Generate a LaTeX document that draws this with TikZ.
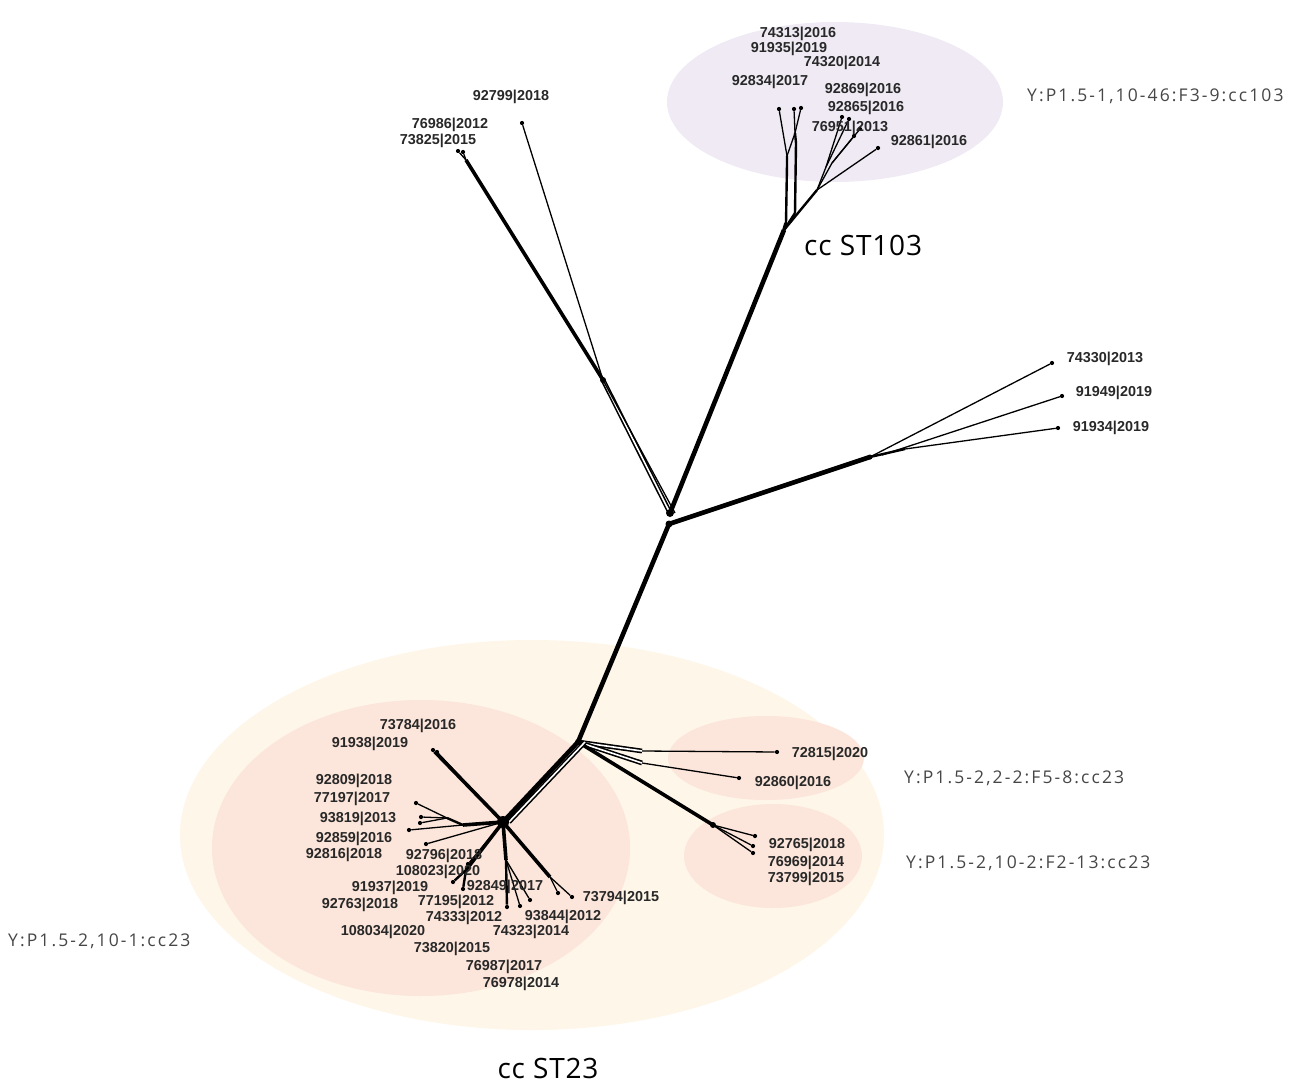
\documentclass[tikz,border=0pt]{standalone}
\usepackage{fontspec}
\setmainfont{Liberation Sans}
\newfontfamily\opensans[LetterSpace=12]{Open Sans}
\newfontfamily\opensanscc[LetterSpace=3]{Open Sans}
\definecolor{lav}{RGB}{239,234,244}
\definecolor{cream}{RGB}{254,246,232}
\definecolor{salmon}{RGB}{252,229,218}
\definecolor{tipgray}{RGB}{40,40,40}
\definecolor{labgray}{RGB}{70,70,70}
\begin{document}
\begin{tikzpicture}[x=1pt,y=-1pt,
  tipdot/.style={circle,fill=black,inner sep=0pt,minimum size=4.2pt},
  thin/.style={line width=1.3pt},
  mid/.style={line width=2.4pt},
  thk/.style={line width=4.6pt},
  thkb/.style={line width=3.6pt},
  dbl/.style={double=white,double distance=1.6pt,line width=1.6pt},
  tiplab/.style={font=\bfseries\fontsize{14.4}{15}\selectfont,text=tipgray,inner sep=0pt},
  grouplab/.style={font=\opensans\fontsize{17.5}{20}\selectfont,text=labgray,inner sep=0pt},
  cclab/.style={font=\opensanscc\fontsize{28}{30}\selectfont,text=black,inner sep=0pt}]
\useasboundingbox (0,0) rectangle (1298,1086);
% background ellipses
\fill[lav] (835,102) ellipse [x radius=168, y radius=80];
\fill[cream] (532,835) ellipse [x radius=352, y radius=195];
\fill[salmon] (421,848) ellipse [x radius=209, y radius=148];
\fill[salmon] (766,758) ellipse [x radius=98, y radius=42];
\fill[salmon] (773,856) ellipse [x radius=89, y radius=52];

% internal coordinates
\coordinate (c0) at (670,513);
\coordinate (c1) at (669,524);
\coordinate (u1) at (784,230);
\coordinate (u2) at (795,213);
\coordinate (u3) at (786,223);
\coordinate (a1) at (787,164);
\coordinate (a0) at (787,156);
\coordinate (b1) at (795,133);
\coordinate (b2) at (796,143);
\coordinate (r0) at (817,190);
\coordinate (r1) at (826,167);
\coordinate (r2) at (832,163);
\coordinate (l0) at (603,380);
\coordinate (l1) at (466,160);
\coordinate (q0) at (870,457);
\coordinate (q1) at (882,455);
\coordinate (q2) at (905,449);
\coordinate (d0) at (578,742);
\coordinate (e1) at (642,751);
\coordinate (e2) at (642,763);
\coordinate (f0) at (713,825);
\coordinate (h0) at (503,822);
\coordinate (h1) at (463,825);
\coordinate (h2) at (447,818);
\coordinate (h3) at (466,870);
\coordinate (h4) at (550,877);
\coordinate (h5) at (506,860);

% tips
\node[tipdot] (t92834) at (779,109) {};
\node[tipdot] (t74313) at (794,109) {};
\node[tipdot] (t91935) at (801,108) {};
\node[tipdot] (t92869) at (842,117) {};
\node[tipdot] (t92865) at (849,119) {};
\node[tipdot] (t76951) at (860,129) {};
\node[tipdot] (t74320) at (854,136) {};
\node[tipdot] (t92861) at (878,148) {};
\node[tipdot] (t76986) at (458,151) {};
\node[tipdot] (t73825) at (463,152) {};
\node[tipdot] (t92799) at (522,123) {};
\node[tipdot] (t74330) at (1052,363) {};
\node[tipdot] (t91949) at (1062,396) {};
\node[tipdot] (t91934) at (1058,428) {};
\node[tipdot] (t72815) at (777,752) {};
\node[tipdot] (t92860) at (739,778) {};
\node[tipdot] (t92765) at (755,836) {};
\node[tipdot] (t76969) at (753,846) {};
\node[tipdot] (t73799) at (753,853) {};
\node[tipdot] (t91938) at (433,750) {};
\node[tipdot] (t73784) at (437,752) {};
\node[tipdot] (t92809) at (416,803) {};
\node[tipdot] (t77197) at (421,817) {};
\node[tipdot] (t93819) at (420,823) {};
\node[tipdot] (t92859) at (409,830) {};
\node[tipdot] (t92816) at (426,844) {};
\node[tipdot] (t108023) at (453,882) {};
\node[tipdot] (t91937) at (463,889) {};
\node[tipdot] (t92849) at (468,864) {};
\node[tipdot] (t74333) at (507,907) {};
\node[tipdot] (t74323) at (520,906) {};
\node[tipdot] (t93844) at (530,900) {};
\node[tipdot] (t76987) at (558,893) {};
\node[tipdot] (t73794) at (572,897) {};

% central trunks
\draw[thk] (c0) -- (u1);
\draw[thk] (c1) -- (q0);
\draw[thk] (c1) -- (d0);
\draw[dbl] (c0) -- (l0);
\draw[thin] ([xshift=5pt]c0) -- (l0);
\fill (c0) circle (4pt);
\fill (c1) circle (3.5pt);

% cc103 cluster
\draw[thkb] (u1) -- (u3);
\draw[mid] (u1) -- (u2);
\draw[mid] (u1) -- (r0);
\draw[mid] (u3) -- (a1) -- (a0);
\draw[mid] (u2) -- (b2) -- (b1);
\draw[thin] (a0) -- (t92834);
\draw[thin] (a0) -- (b1);
\draw[thin] (b1) -- (t74313);
\draw[thin] (b1) -- (t91935);
\draw[thin] (r0) -- (r1);
\draw[thin] (r0) -- (r2);
\draw[thin] (r1) -- (t92869);
\draw[thin] (r1) -- (t92865);
\draw[thin] (r2) -- (t76951);
\draw[thin] (r2) -- (t74320);
\draw[thin] (r0) -- (t92861);

% upper-left branch
\draw[thkb] (l0) -- (l1);
\draw[thin] (l1) -- (t76986);
\draw[thin] (l1) -- (t73825);
\draw[thin] (l0) -- (t92799);
\fill (l0) circle (3pt);

% right branch
\draw[thin] (q0) -- (t74330);
\draw[mid] (q0) -- (q2);
\draw[thin] (q1) -- (t91949);
\draw[thin] (q2) -- (t91934);
\fill (q0) circle (2.5pt);

% lower right
\draw[dbl] (d0) -- (e1);
\draw[thin] (e1) -- (t72815);
\draw[dbl] (d0) -- (e2);
\draw[thin] (e2) -- (t92860);
\draw[thkb] (d0) -- (f0);
\draw[thin] (f0) -- (t92765);
\draw[thin] (f0) -- (t76969);
\draw[thin] (f0) -- (t73799);
\fill (f0) circle (3pt);

% cc23 hub
\draw[thk] (d0) -- (h0);
\draw[dbl] ([xshift=7pt]d0) -- ([xshift=6pt]h0);
\draw[thkb] (h0) -- (t91938);
\draw[thin] (h0) -- (t73784);
\draw[thkb] (h0) -- (h1);
\draw[mid] (h1) -- (h2);
\draw[thin] (h2) -- (t92809);
\draw[thin] (h2) -- (t77197);
\draw[thin] (h2) -- (t93819);
\draw[thin] (h1) -- (t92859);
\draw[thin] (h0) -- (t92816);
\draw[thkb] (h0) -- (h3);
\draw[mid] (h3) -- (t108023);
\draw[mid] (h3) -- (t91937);
\draw[thin] (h0) -- (t92849);
\draw[thkb] (h0) -- (h5);
\draw[mid] (h5) -- (t74333);
\draw[thin] (h5) -- (t74323);
\draw[thin] (h5) -- (t93844);
\draw[thkb] (h0) -- (h4);
\draw[thin] (h4) -- (t76987);
\draw[thin] (h4) -- (t73794);
\fill (h0) circle (6pt);
\fill (d0) circle (3pt);

% tip labels
\node[tiplab] (n74313) at (798,34) {74313|2016};
\node[tiplab] (n91935) at (789,49) {91935|2019};
\node[tiplab] (n74320) at (842,63) {74320|2014};
\node[tiplab] (n92834) at (770,82) {92834|2017};
\node[tiplab] (n92869) at (863,90) {92869|2016};
\node[tiplab] (n92865) at (866,108) {92865|2016};
\node[tiplab] (n76951) at (850,128) {76951|2013};
\node[tiplab] (n92861) at (929,142) {92861|2016};
\node[tiplab] (n92799) at (511,97) {92799|2018};
\node[tiplab] (n76986) at (450,125) {76986|2012};
\node[tiplab] (n73825) at (438,141) {73825|2015};
\node[tiplab] (n74330) at (1105,359) {74330|2013};
\node[tiplab] (n91949) at (1114,393) {91949|2019};
\node[tiplab] (n91934) at (1111,428) {91934|2019};
\node[tiplab] (n72815) at (830,754) {72815|2020};
\node[tiplab] (n92860) at (793,783) {92860|2016};
\node[tiplab] (n92765) at (807,845) {92765|2018};
\node[tiplab] (n76969) at (806,863) {76969|2014};
\node[tiplab] (n73799) at (806,879) {73799|2015};
\node[tiplab] (n73784) at (418,726) {73784|2016};
\node[tiplab] (n91938) at (370,744) {91938|2019};
\node[tiplab] (n92809) at (354,781) {92809|2018};
\node[tiplab] (n77197) at (352,799) {77197|2017};
\node[tiplab] (n93819) at (358,819) {93819|2013};
\node[tiplab] (n92859) at (354,839) {92859|2016};
\node[tiplab] (n92816) at (344,855) {92816|2018};
\node[tiplab] (n92796) at (444,856) {92796|2018};
\node[tiplab] (n108023) at (438,872) {108023|2020};
\node[tiplab] (n91937) at (390,888) {91937|2019};
\node[tiplab] (n92849) at (505,887) {92849|2017};
\node[tiplab] (n92763) at (360,905) {92763|2018};
\node[tiplab] (n77195) at (456,902) {77195|2012};
\node[tiplab] (n74333) at (464,918) {74333|2012};
\node[tiplab] (n93844) at (563,917) {93844|2012};
\node[tiplab] (n73794) at (621,898) {73794|2015};
\node[tiplab] (n108034) at (383,932) {108034|2020};
\node[tiplab] (n74323) at (531,932) {74323|2014};
\node[tiplab] (n73820) at (452,949) {73820|2015};
\node[tiplab] (n76987) at (504,967) {76987|2017};
\node[tiplab] (n76978) at (521,984) {76978|2014};

% group labels
\node[grouplab,anchor=base west] (g103) at (1027,102) {Y:P1.5-1,10-46:F3-9:cc103};
\node[grouplab,anchor=base west] (g2a) at (904,783) {Y:P1.5-2,2-2:F5-8:cc23};
\node[grouplab,anchor=base west] (g2b) at (906,868) {Y:P1.5-2,10-2:F2-13:cc23};
\node[grouplab,anchor=base west] (g1) at (8,946) {Y:P1.5-2,10-1:cc23};
\node[cclab,anchor=base west] (cc103) at (804,255) {cc ST103};
\node[cclab,anchor=base] (cc23) at (548,1078) {cc ST23};
\end{tikzpicture}
\end{document}
